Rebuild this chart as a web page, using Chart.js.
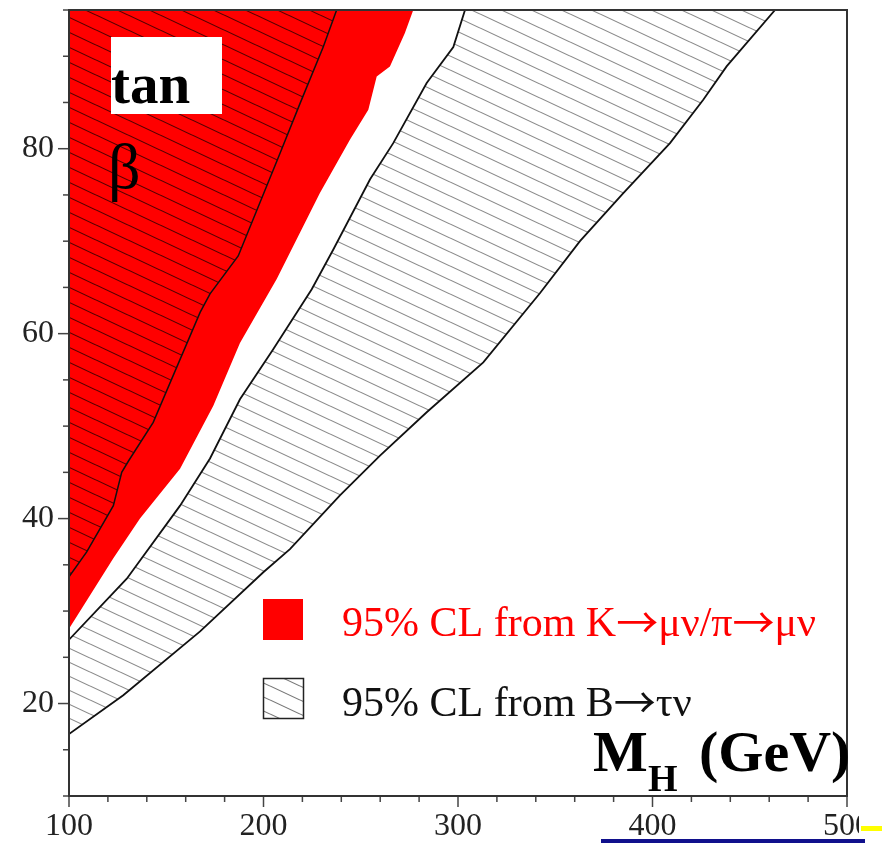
<!DOCTYPE html>
<html>
<head>
<meta charset="utf-8">
<script src="https://cdn.jsdelivr.net/npm/chart.js@4.4.1/dist/chart.umd.min.js"></script>
<style>
  html, body { margin: 0; padding: 0; background: #fff; }
  #wrap { width: 882px; height: 843px; }
</style>
</head>
<body>
<div id="wrap"><canvas id="limitChart" width="882" height="843"></canvas></div>
<script>
// exclusion contours in the (M_H, tan beta) plane
// K->mu nu / pi->mu nu, edge of the red area
var kmuMass = [100, 122.8, 136.5, 157.1, 174.2, 187.9, 206.8, 229.0, 244.5, 253.9, 258.2, 265.0, 272.7, 277.0];
var kmuTanb = [28.1, 35.7, 40.0, 45.4, 52.2, 59.0, 65.9, 75.2, 81.0, 84.2, 87.8, 88.9, 92.5, 95];

// B->tau nu, upper excluded area (hatched over the red)
var btnUpperMass = [100, 109.1, 122.8, 127.1, 130.5, 143.3, 167.4, 172.5, 187.0, 208.5, 218.8, 230.7, 237.6];
var btnUpperTanb = [33.7, 36.4, 41.4, 45.0, 46.2, 50.4, 62.3, 64.3, 68.4, 79.5, 84.9, 91.0, 95];

// B->tau nu, hatched band: inner edge
var bandInnerMass = [100, 129.7, 157.1, 172.5, 187.9, 205.0, 224.8, 235.9, 254.8, 266.7, 283.9, 297.6, 303.6];
var bandInnerTanb = [26.9, 33.5, 41.4, 46.5, 52.9, 58.3, 64.8, 69.1, 76.7, 80.6, 87.1, 91.0, 95];

// B->tau nu, hatched band: outer edge
var bandOuterMass = [100, 127.9, 167.4, 199.9, 213.6, 239.3, 259.9, 283.9, 313.0, 342.2, 362.7, 385.0, 409.0, 426.1, 438.1, 463.0];
var bandOuterTanb = [16.7, 20.9, 27.8, 34.2, 36.7, 42.5, 46.8, 51.5, 56.9, 64.4, 70.0, 75.2, 80.6, 85.3, 88.9, 95];

var xTicks = [100, 200, 300, 400, 500];
var yTicks = [20, 40, 60, 80];

// legend entries, split so the arrows can use a font with a long thin glyph
var legendKmu = ['95% CL from K', '\u2192', '\u03bc\u03bd/\u03c0', '\u2192', '\u03bc\u03bd'];
var legendBtn = ['95% CL from B', '\u2192', '\u03c4\u03bd'];

var SERIF = '"Liberation Serif", "DejaVu Serif", serif';
var ARROW = '"Noto Sans CJK JP", "DejaVu Sans", sans-serif';

function points(xs, ys) {
    var out = [];
    for (var i = 0; i < xs.length; i++) {
        out.push({x: xs[i], y: ys[i]});
    }
    return out;
}

// diagonal hatch tile, lines running down to the right
function hatch(w, h, color, bg) {
    var c = document.createElement('canvas');
    c.width = w;
    c.height = h;
    var g = c.getContext('2d');
    if (bg) {
        g.fillStyle = bg;
        g.fillRect(0, 0, w, h);
    }
    g.strokeStyle = color;
    g.lineWidth = 1.1;
    for (var k = -1; k <= 1; k++) {
        g.beginPath();
        g.moveTo(0, k * h);
        g.lineTo(w, (k + 1) * h);
        g.stroke();
    }
    return g.createPattern(c, 'repeat');
}

// text runs, arrows in their own font, the rest in serif
function drawRuns(c, runs, x, y, size) {
    runs.forEach(function (r) {
        if (r === '\u2192') {
            c.font = size + 'px ' + ARROW;
            c.fillText(r, x, y + 2);
        } else {
            c.font = size + 'px ' + SERIF;
            c.fillText(r, x, y);
        }
        x += c.measureText(r).width;
    });
}

var ctx = document.getElementById('limitChart').getContext('2d');
var grayHatch = hatch(30, 14, '#8a8a8a', null);
var darkHatch = hatch(32, 15, 'rgba(40,0,0,0.8)', null);
var legendHatch = hatch(30, 14, '#777', '#fff');

// ticks: long on labelled values, short in between, pointing out of the frame
var frameTicks = {
    id: 'frameTicks',
    afterDatasetsDraw: function (chart) {
        var c = chart.ctx, a = chart.chartArea;
        var xs = chart.scales.x, ys = chart.scales.y;
        c.save();
        c.strokeStyle = '#444';
        c.lineWidth = 1.5;
        xs.ticks.forEach(function (t) {
            var px = xs.getPixelForValue(t.value);
            var len = xTicks.indexOf(t.value) >= 0 ? 11 : 6;
            c.beginPath();
            c.moveTo(px, a.bottom);
            c.lineTo(px, a.bottom + len);
            c.stroke();
        });
        ys.ticks.forEach(function (t) {
            var py = ys.getPixelForValue(t.value);
            var len = yTicks.indexOf(t.value) >= 0 ? 11 : 6;
            c.beginPath();
            c.moveTo(a.left, py);
            c.lineTo(a.left - len, py);
            c.stroke();
        });
        c.lineWidth = 2;
        c.strokeStyle = '#333';
        c.strokeRect(a.left, a.top, a.right - a.left, a.bottom - a.top);
        c.restore();
    }
};

// axis titles, legend and the slide trim at the bottom
var annotations = {
    id: 'annotations',
    afterDraw: function (chart) {
        var c = chart.ctx;
        c.save();

        // tan beta
        c.fillStyle = '#fff';
        c.fillRect(111, 37, 111, 77);
        c.fillStyle = '#000';
        c.textBaseline = 'alphabetic';
        c.font = 'bold 57px ' + SERIF;
        c.fillText('tan', 111, 103);
        c.font = '64px ' + SERIF;
        c.fillText('\u03b2', 108, 188);

        // legend
        c.fillStyle = '#ff0000';
        c.fillRect(263, 599, 40, 41);
        c.fillStyle = legendHatch;
        c.fillRect(263, 678, 40, 40);
        c.strokeStyle = '#222';
        c.lineWidth = 1.5;
        c.strokeRect(263.5, 678.5, 40, 40);
        c.fillStyle = '#ff0000';
        drawRuns(c, legendKmu, 342, 636, 42);
        c.fillStyle = '#111';
        drawRuns(c, legendBtn, 342, 716, 42);

        // M_H (GeV)
        c.fillStyle = '#000';
        c.font = 'bold 58px ' + SERIF;
        c.fillText('M', 593, 771);
        c.font = 'bold 38px ' + SERIF;
        c.fillText('H', 648, 791);
        c.font = 'bold 58px ' + SERIF;
        c.fillText('(GeV)', 699, 771);

        // page trim
        c.fillStyle = '#fff';
        c.fillRect(859, 800, 23, 43);
        c.fillStyle = '#ffff00';
        c.fillRect(861, 826, 21, 5);
        c.fillStyle = '#10108c';
        c.fillRect(601, 839, 264, 4);
        c.restore();
    }
};

function tickFont(list) {
    return function (c) {
        var on = c.tick && list.indexOf(c.tick.value) >= 0;
        return {family: SERIF, size: on ? 32 : 2};
    };
}

new Chart(ctx, {
    type: 'line',
    data: {
        datasets: [{
            // hatched band, filled up to the top then cleared above the inner edge
            data: points(bandOuterMass, bandOuterTanb),
            borderColor: '#111',
            borderWidth: 1.8,
            backgroundColor: grayHatch,
            fill: 'end',
            order: 4
        }, {
            data: points(bandInnerMass, bandInnerTanb),
            borderColor: '#111',
            borderWidth: 1.8,
            backgroundColor: '#ffffff',
            fill: 'end',
            order: 3
        }, {
            data: points(kmuMass, kmuTanb),
            borderWidth: 0,
            borderColor: 'rgba(0,0,0,0)',
            backgroundColor: '#ff0000',
            fill: 'end',
            order: 2
        }, {
            data: points(btnUpperMass, btnUpperTanb),
            borderColor: '#111',
            borderWidth: 1.5,
            backgroundColor: darkHatch,
            fill: 'end',
            order: 1
        }]
    },
    options: {
        responsive: false,
        animation: false,
        events: [],
        layout: {padding: {top: 10, right: 35, left: 0, bottom: 0}},
        elements: {
            point: {radius: 0},
            line: {tension: 0}
        },
        plugins: {
            legend: {display: false},
            tooltip: {enabled: false}
        },
        scales: {
            x: {
                type: 'linear',
                min: 100,
                max: 500,
                afterFit: function (s) {
                    s.height = 47;
                    s.paddingLeft = 0;
                    s.paddingRight = 0;
                },
                grid: {display: false, drawTicks: false},
                border: {display: false},
                ticks: {
                    stepSize: 20,
                    autoSkip: false,
                    maxRotation: 0,
                    padding: 11,
                    color: '#222',
                    font: tickFont(xTicks),
                    callback: function (v) { return xTicks.indexOf(v) >= 0 ? String(v) : ''; }
                }
            },
            y: {
                type: 'linear',
                min: 10,
                max: 95,
                afterFit: function (s) {
                    s.width = 69;
                    s.paddingTop = 0;
                    s.paddingBottom = 0;
                },
                grid: {display: false, drawTicks: false},
                border: {display: false},
                ticks: {
                    stepSize: 5,
                    autoSkip: false,
                    padding: 15,
                    color: '#222',
                    font: tickFont(yTicks),
                    callback: function (v) { return yTicks.indexOf(v) >= 0 ? String(v) : ''; }
                }
            }
        }
    },
    plugins: [frameTicks, annotations]
});
</script>
</body>
</html>
